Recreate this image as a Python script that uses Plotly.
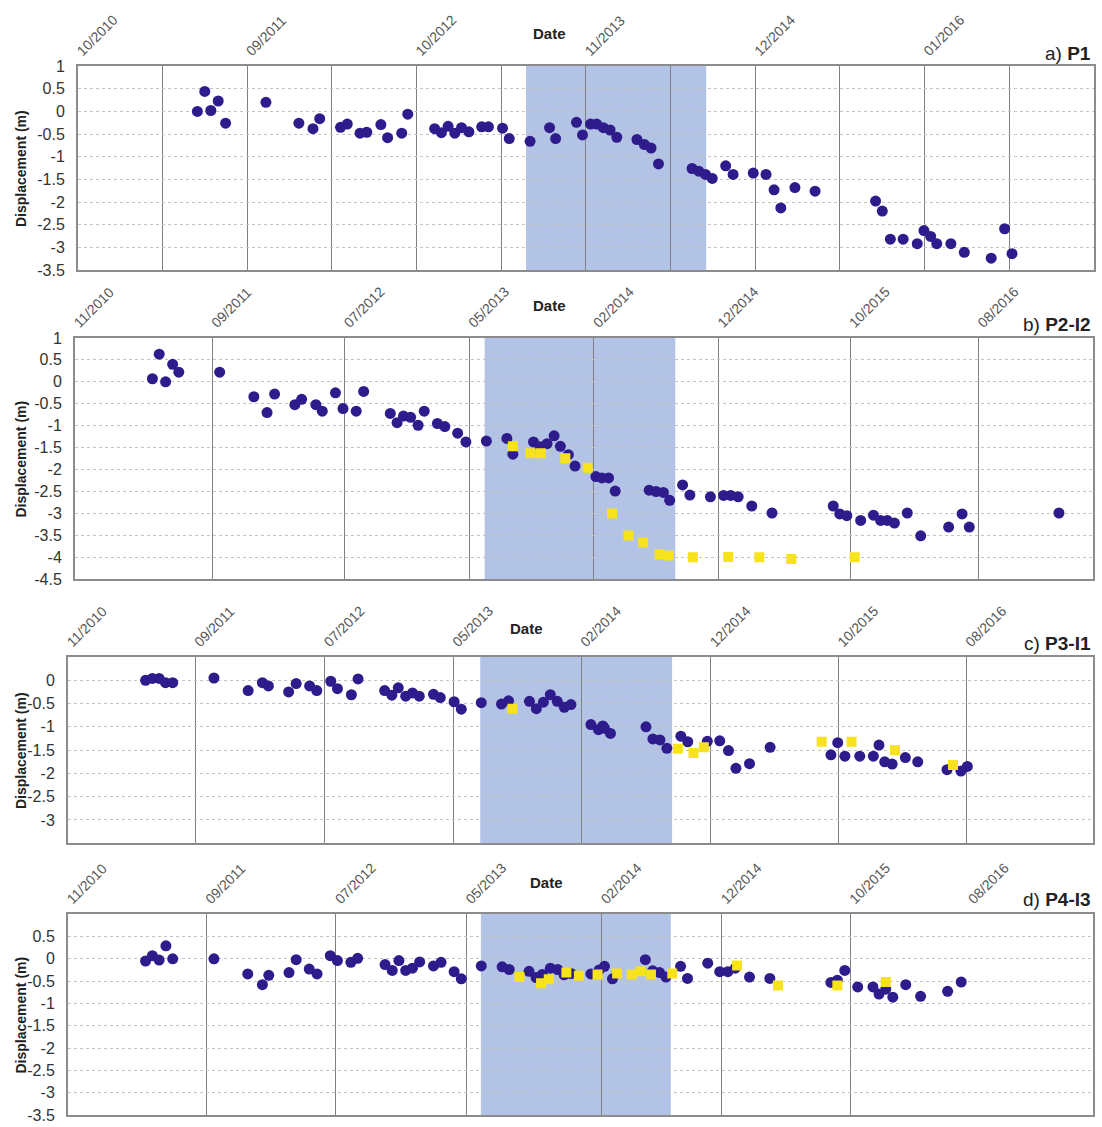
import plotly.graph_objects as go

W, H = 1102, 1127
BLUE = '#2E1B8C'
YELLOW = '#F6E31B'
SHADE = '#B3C3E6'
FONT = 'Arial, Liberation Sans, sans-serif'

# ---------------- data (x in months from the first axis label) ----------------
# Panel a) P1
a_blue_x = [8.9, 9.45, 9.9, 10.45, 11.0, 14.0, 16.45, 17.5, 18.0, 19.55, 20.05, 21.0, 21.5, 22.55,
            23.05, 24.1, 24.55, 26.55, 27.05, 27.55, 28.05, 28.55, 29.1, 30.05, 30.55, 31.6, 32.1,
            33.65, 35.1, 35.55, 37.1, 37.55, 38.15, 38.6, 39.1, 39.6, 40.1, 41.6, 42.15, 42.65, 43.2,
            45.7, 46.2, 46.7, 47.2, 48.2, 48.75, 50.25, 51.2, 51.8, 52.3, 53.35, 54.85, 59.35, 59.85,
            60.45, 61.4, 62.45, 62.95, 63.45, 63.9, 64.95, 65.95, 67.95, 68.95, 69.5]
a_blue_y = [0.00, 0.44, 0.02, 0.23, -0.26, 0.20, -0.26, -0.38, -0.16, -0.35, -0.28, -0.48, -0.46, -0.29,
            -0.58, -0.48, -0.06, -0.38, -0.47, -0.33, -0.48, -0.36, -0.45, -0.34, -0.34, -0.37, -0.60,
            -0.66, -0.36, -0.60, -0.24, -0.52, -0.28, -0.28, -0.36, -0.41, -0.57, -0.62, -0.73, -0.81, -1.16,
            -1.26, -1.32, -1.39, -1.48, -1.20, -1.39, -1.36, -1.39, -1.73, -2.13, -1.68, -1.76, -1.98, -2.20,
            -2.82, -2.82, -2.92, -2.63, -2.76, -2.92, -2.92, -3.11, -3.24, -2.59, -3.14]

# Panel b) P2-I2
b_blue_x = [5.95, 6.47, 6.96, 7.5, 7.97, 11.1, 13.72, 14.73, 15.31, 16.86, 17.38, 18.47, 18.96, 19.97,
            20.55, 21.56, 22.13, 24.17, 24.69, 25.18, 25.73, 26.3, 26.77, 27.78, 28.35, 29.33, 29.96,
            31.53, 33.1, 33.56, 35.14, 35.67, 36.18, 36.72, 37.2, 37.81, 38.32, 39.92, 40.38, 40.89, 41.4,
            44.0, 44.53, 45.09, 45.57, 46.56, 47.12, 48.69, 49.7, 50.25, 50.82, 51.86, 53.41, 58.1, 58.6,
            59.14, 60.2, 61.18, 61.73, 62.24, 62.79, 63.77, 64.8, 66.94, 67.97, 68.52, 75.39]
b_blue_y = [0.07, 0.63, 0.0, 0.40, 0.22, 0.22, -0.34, -0.70, -0.28, -0.52, -0.40, -0.52, -0.67, -0.25,
            -0.61, -0.67, -0.22, -0.72, -0.93, -0.78, -0.81, -0.99, -0.67, -0.95, -1.02, -1.17, -1.37,
            -1.35, -1.29, -1.65, -1.37, -1.48, -1.41, -1.23, -1.47, -1.66, -1.92, -2.16, -2.19, -2.19, -2.49,
            -2.47, -2.50, -2.52, -2.70, -2.35, -2.58, -2.62, -2.59, -2.59, -2.62, -2.83, -2.99, -2.83, -3.01,
            -3.05, -3.16, -3.04, -3.16, -3.16, -3.22, -2.99, -3.51, -3.31, -3.01, -3.31, -2.99]
b_yel_x = [33.56, 34.91, 35.7, 37.58, 39.29, 41.15, 42.42, 43.54, 44.79, 45.5, 47.35, 50.06, 52.44, 54.89, 59.74]
b_yel_y = [-1.47, -1.63, -1.63, -1.74, -1.96, -3.0, -3.50, -3.66, -3.93, -3.96, -4.0, -3.99, -4.0, -4.04, -4.0]

# Panel c) P3-I1
c_blue_x = [5.96, 6.48, 7.0, 7.49, 8.04, 11.2, 13.82, 14.91, 15.37, 16.92, 17.5, 18.53, 19.08, 20.15,
            20.66, 21.73, 22.24, 24.28, 24.83, 25.32, 25.89, 26.41, 26.93, 28.02, 28.54, 29.6, 30.15,
            31.68, 33.23, 33.77, 35.37, 35.9, 36.44, 36.97, 37.5, 38.04, 38.55, 40.08, 40.66, 40.99, 41.12,
            41.58, 44.3, 44.83, 45.37, 45.9, 46.97, 47.5, 49.0, 49.95, 50.62, 51.19, 52.23, 53.81, 58.47,
            58.99, 59.54, 60.68, 61.72, 62.15, 62.59, 63.16, 64.17, 65.12, 67.36, 68.43, 68.92]
c_blue_y = [0.0, 0.04, 0.04, -0.05, -0.05, 0.05, -0.22, -0.05, -0.12, -0.25, -0.07, -0.12, -0.22, -0.02,
            -0.18, -0.31, 0.03, -0.22, -0.32, -0.16, -0.34, -0.27, -0.34, -0.30, -0.37, -0.46, -0.62,
            -0.48, -0.51, -0.44, -0.45, -0.61, -0.47, -0.31, -0.45, -0.58, -0.52, -0.95, -1.06, -0.98, -1.03,
            -1.14, -1.0, -1.26, -1.28, -1.46, -1.20, -1.32, -1.31, -1.30, -1.51, -1.89, -1.79, -1.44, -1.60,
            -1.34, -1.63, -1.63, -1.63, -1.39, -1.75, -1.80, -1.66, -1.75, -1.92, -1.95, -1.85]
c_yel_x = [34.07, 46.74, 47.94, 48.73, 57.76, 60.05, 63.38, 67.82]
c_yel_y = [-0.61, -1.47, -1.56, -1.44, -1.32, -1.32, -1.50, -1.82]

# Panel d) P4-I3
d_blue_x = [5.96, 6.48, 7.0, 7.52, 8.04, 11.2, 13.79, 14.91, 15.4, 16.95, 17.5, 18.5, 19.1, 20.11,
            20.66, 21.69, 22.21, 24.31, 24.86, 25.37, 25.89, 26.41, 26.96, 28.02, 28.6, 29.6, 30.15,
            31.68, 33.28, 33.82, 35.34, 35.88, 36.36, 36.97, 37.53, 38.02, 38.55, 40.08, 40.71, 41.12,
            41.73, 44.25, 44.81, 45.34, 45.83, 46.95, 47.48, 49.03, 49.95, 50.57, 51.14, 52.23, 53.79,
            58.47, 58.96, 59.53, 60.52, 61.69, 62.15, 62.67, 63.21, 64.2, 65.34, 67.41, 68.45]
d_blue_y = [-0.05, 0.07, -0.03, 0.29, 0.0, 0.0, -0.34, -0.58, -0.37, -0.31, -0.02, -0.23, -0.34, 0.07,
            -0.04, -0.08, 0.01, -0.13, -0.26, -0.04, -0.26, -0.21, -0.07, -0.16, -0.08, -0.29, -0.45,
            -0.16, -0.18, -0.24, -0.28, -0.42, -0.35, -0.21, -0.24, -0.36, -0.33, -0.34, -0.25, -0.17,
            -0.45, -0.02, -0.27, -0.31, -0.41, -0.17, -0.44, -0.10, -0.29, -0.29, -0.21, -0.41, -0.44,
            -0.53, -0.48, -0.26, -0.63, -0.63, -0.79, -0.68, -0.86, -0.58, -0.84, -0.73, -0.52]
d_yel_x = [34.6, 36.26, 36.85, 38.2, 39.16, 40.59, 42.09, 43.21, 43.87, 44.68, 46.31, 51.28, 54.41, 58.96, 62.67]
d_yel_y = [-0.41, -0.55, -0.46, -0.31, -0.38, -0.35, -0.33, -0.35, -0.28, -0.35, -0.33, -0.15, -0.60, -0.60, -0.52]

# Axis labels
a_tick_labels = ['10/2010', '09/2011', '10/2012', '11/2013', '12/2014', '01/2016']
bcd_tick_labels = ['11/2010', '09/2011', '07/2012', '05/2013', '02/2014', '12/2014', '10/2015', '08/2016']
a_tick_pos = [0, 12.6, 25.2, 37.8, 50.4, 63.0]
a_grid_pos = [6.3, 12.6, 18.9, 25.2, 31.5, 37.8, 44.1, 50.4, 56.7, 63.0, 69.3]
b_tick_pos = [0, 10.53, 20.69, 30.23, 39.77, 49.31, 59.39, 69.24]
c_tick_pos = [0, 9.77, 19.69, 29.54, 39.35, 49.27, 59.05, 68.85]
d_tick_pos = [0, 10.61, 20.55, 30.56, 40.92, 50.11, 59.95, 69.05]
d_grid_pos = [10.61, 20.55, 30.56, 40.92, 50.11, 59.95]

# Shaded periods (start, end)
a_shade = (33.35, 46.75)
b_shade = (31.4, 46.0)
c_shade = (31.6, 46.3)
d_shade = (31.65, 46.2)

a_yticks = [1, 0.5, 0, -0.5, -1, -1.5, -2, -2.5, -3, -3.5]
b_yticks = [1, 0.5, 0, -0.5, -1, -1.5, -2, -2.5, -3, -3.5, -4, -4.5]
c_yticks = [0, -0.5, -1, -1.5, -2, -2.5, -3]
d_yticks = [0.5, 0, -0.5, -1, -1.5, -2, -2.5, -3, -3.5]


def fmt(v):
    return ('%g' % v)


panels = [
    dict(key='', blue=(a_blue_x, a_blue_y), yel=None, px=(74, 1094), py=(59, 266), xr=[0, 75.6],
         yr=[-3.5, 1], tpos=a_tick_pos, tlab=a_tick_labels, grid=a_grid_pos, shade=a_shade,
         yt=a_yticks, ylab='a)', name='P1', datex=547, datey=26, labely=46),
    dict(key='2', blue=(b_blue_x, b_blue_y), yel=(b_yel_x, b_yel_y), px=(71, 1093), py=(335, 580),
         xr=[0, 78.0], yr=[-4.5, 1], tpos=b_tick_pos, tlab=bcd_tick_labels, grid=b_tick_pos[1:],
         shade=b_shade, yt=b_yticks, ylab='b)', name='P2-I2', datex=547, datey=302, labely=321),
    dict(key='3', blue=(c_blue_x, c_blue_y), yel=(c_yel_x, c_yel_y), px=(64, 1093), py=(659, 848),
         xr=[0, 78.55], yr=[-3.5, 0.5], tpos=c_tick_pos, tlab=bcd_tick_labels, grid=c_tick_pos[1:],
         shade=c_shade, yt=c_yticks, ylab='c)', name='P3-I1', datex=524, datey=630, labely=645),
    dict(key='4', blue=(d_blue_x, d_blue_y), yel=(d_yel_x, d_yel_y), px=(64, 1093), py=(920, 1124),
         xr=[0, 78.55], yr=[-3.5, 1], tpos=d_tick_pos, tlab=bcd_tick_labels, grid=d_grid_pos,
         shade=d_shade, yt=d_yticks, ylab='d)', name='P4-I3', datex=544, datey=888, labely=905),
]

fig = go.Figure()
layout = dict(width=W, height=H, margin=dict(l=0, r=0, t=0, b=0), paper_bgcolor='white',
              plot_bgcolor='white', showlegend=False, font=dict(family=FONT))
shapes, annotations = [], []

for p in panels:
    k = p['key']
    xa, ya = 'x' + k, 'y' + k
    fig.add_trace(go.Scatter(x=p['blue'][0], y=p['blue'][1], mode='markers', xaxis=xa, yaxis=ya,
                             marker=dict(color=BLUE, size=11, symbol='circle', line=dict(width=0))))
    if p['yel'] is not None:
        fig.add_trace(go.Scatter(x=p['yel'][0], y=p['yel'][1], mode='markers', xaxis=xa, yaxis=ya,
                                 marker=dict(color=YELLOW, size=10, symbol='square', line=dict(width=0))))
    x0, x1 = p['px']
    y0, y1 = p['py']
    layout['xaxis' + k] = dict(
        domain=[x0 / W, x1 / W], range=p['xr'], side='top', anchor=ya,
        tickmode='array', tickvals=p['tpos'], ticktext=p['tlab'], tickangle=-45,
        tickfont=dict(size=14, color='#555', family=FONT), showgrid=False, zeroline=False,
        minor=dict(tickmode='array', tickvals=p['grid'], showgrid=True, gridcolor='#808080',
                   gridwidth=1, ticks=''),
        showline=True, mirror=True, linecolor='#8c8c8c', linewidth=1.5, ticks='', fixedrange=True)
    layout['yaxis' + k] = dict(
        domain=[1 - y1 / H, 1 - y0 / H], range=p['yr'], anchor=xa,
        tickmode='array', tickvals=p['yt'], ticktext=[fmt(v) for v in p['yt']],
        tickfont=dict(size=16, color='#333', family=FONT), showgrid=True, gridcolor='#c4c4c4',
        griddash='dot', gridwidth=1, zeroline=False, showline=True, mirror=True,
        ticklabelstandoff=8,
        linecolor='#8c8c8c', linewidth=1.5, ticks='', fixedrange=True)
    shapes.append(dict(type='rect', xref=xa, yref=ya + ' domain', x0=p['shade'][0], x1=p['shade'][1],
                       y0=0, y1=1, fillcolor=SHADE, line=dict(width=0), layer='below'))
    annotations.append(dict(text='<b>Displacement (m)</b>', textangle=-90, xref='paper', yref='paper',
                            x=17 / W, y=1 - (y0 + y1) / 2 / H, xanchor='center', yanchor='middle',
                            showarrow=False, font=dict(size=14, color='#222', family=FONT)))
    annotations.append(dict(text='<b>Date</b>', xref='paper', yref='paper', x=p['datex'] / W,
                            y=1 - p['datey'] / H, xanchor='center', yanchor='middle', showarrow=False,
                            font=dict(size=15, color='#222', family=FONT)))
    annotations.append(dict(text=p['ylab'] + ' <b>' + p['name'] + '</b>', xref='paper', yref='paper',
                            x=1093 / W, y=1 - p['labely'] / H, xanchor='right', yanchor='middle',
                            showarrow=False, font=dict(size=19, color='#222', family=FONT)))

layout['shapes'] = shapes
layout['annotations'] = annotations
fig.update_layout(**layout)
fig.write_html('out.html')
